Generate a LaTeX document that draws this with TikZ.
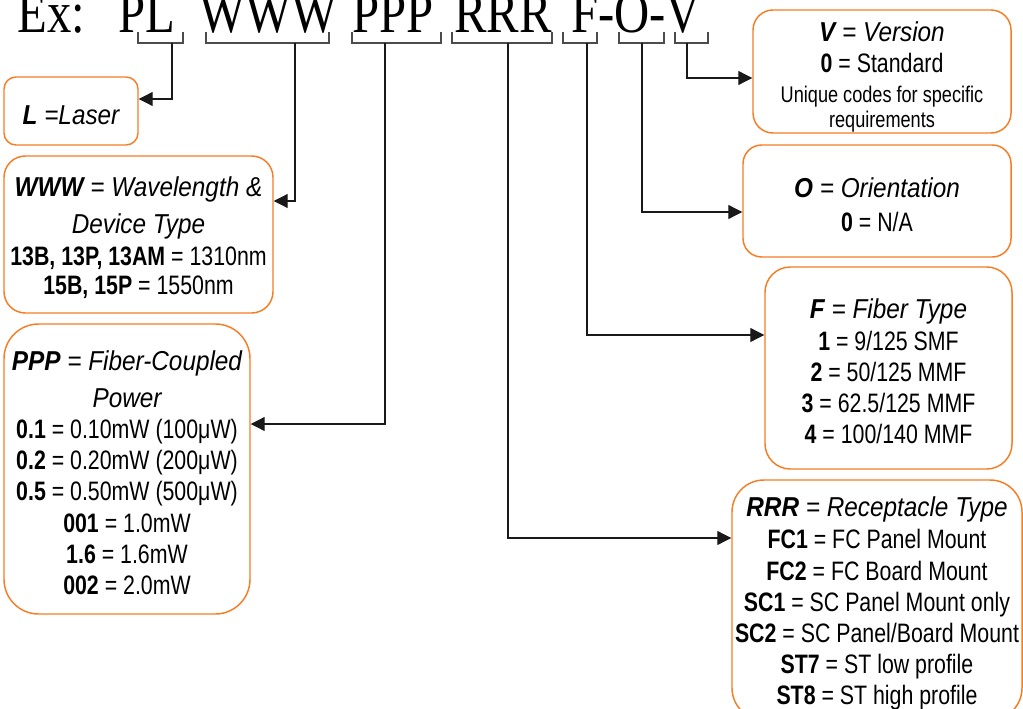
\documentclass[tikz,border=0pt]{standalone}
\usepackage{fontspec}
\usepackage{tikz}
\usetikzlibrary{arrows.meta}
\newfontfamily\headfont[FakeStretch=0.83]{Liberation Serif}
\newfontfamily\bodyfont[FakeStretch=0.8]{Liberation Sans}
\newfontfamily\titlefont[FakeStretch=0.89]{Liberation Sans}
\definecolor{boxorange}{RGB}{245,125,35}
\newcommand{\ttl}{\titlefont\fontsize{20.5pt}{24pt}\selectfont\itshape}
\newcommand{\sml}{\fontsize{17pt}{19pt}\selectfont}
\newcommand{\toppad}[1][20pt]{\rule{0pt}{#1}}
\tikzset{
	codebox/.style={draw=boxorange, line width=1.1pt, align=center, inner sep=0pt,
		font=\bodyfont\fontsize{20pt}{23.4pt}\selectfont},
	boxsize/.style 2 args={minimum width=#1*0.75pt, minimum height=#2*0.75pt},
	letters/.style={anchor=base west, inner sep=0pt, font=\headfont\fontsize{44pt}{50pt}\selectfont},
	bracket/.style={draw=black!70, line width=0.9pt},
	conn/.style={draw=black!90, line width=0.9pt, -{Triangle[length=10.5pt,width=10.5pt]}}
}

\begin{document}
\begin{tikzpicture}[x=0.75pt, y=-0.75pt]
	\useasboundingbox (0,0) rectangle (1023,709);
	% part number
	\node[letters] (ex) at (17,33) {Ex:};
	\node[letters] (pl) at (118,33) {PL};
	\node[letters] (www) at (199,33) {WWW};
	\node[letters] (ppp) at (352,33) {PPP};
	\node[letters] (rrr) at (454,33) {RRR};
	\node[letters] (fov) at (571,33) {F-O-V};
	% brackets under the letters
	\draw[bracket] (138,32) |- (183,43) -- (183,32);
	\draw[bracket] (206,32) |- (329,43) -- (329,32);
	\draw[bracket] (352,32) |- (441,43) -- (441,32);
	\draw[bracket] (452,32) |- (552,43) -- (552,32);
	\draw[bracket] (563,32) |- (597,43) -- (597,32);
	\draw[bracket] (619,32) |- (664,43) -- (664,32);
	\draw[bracket] (675,32) |- (708,43) -- (708,32);
	\coordinate (pl-s) at (172,43);   \coordinate (pl-t) at (172,99);
	\coordinate (www-s) at (295,43);  \coordinate (www-t) at (295,201);
	\coordinate (ppp-s) at (385,43);  \coordinate (ppp-t) at (385,424);
	\coordinate (rrr-s) at (508,43);  \coordinate (rrr-t) at (508,538);
	\coordinate (f-s) at (587,43);    \coordinate (f-t) at (587,335);
	\coordinate (o-s) at (642,43);    \coordinate (o-t) at (642,212);
	\coordinate (v-s) at (687,43);    \coordinate (v-t) at (687,78);
	% left boxes
	\node[codebox, boxsize={134}{68}, rounded corners=9pt] (lbox) at (71,111)
		{\toppad{\ttl\textbf{L} =Laser}};
	\node[codebox, boxsize={269}{157}, rounded corners=16pt] (wbox) at (138.5,234.5)
		{\toppad{\ttl\textbf{WWW} = Wavelength \&}\\[4pt]
		 {\ttl Device Type}\\[1pt]
		 \textbf{13B, 13P, 13AM} = 1310nm\\[-1.5pt]
		 \textbf{15B, 15P} = 1550nm};
	\node[codebox, boxsize={246}{290}, rounded corners=26pt] (pbox) at (127,469)
		{\toppad{\ttl\textbf{PPP} = Fiber-Coupled}\\[4.5pt]
		 {\ttl Power}\\
		 \textbf{0.1} = 0.10mW (100μW)\\
		 \textbf{0.2} = 0.20mW (200μW)\\
		 \textbf{0.5} = 0.50mW (500μW)\\
		 \textbf{001} = 1.0mW\\
		 \textbf{1.6} = 1.6mW\\
		 \textbf{002} = 2.0mW};
	% right boxes
	\node[codebox, boxsize={258}{123}, rounded corners=15pt] (vbox) at (882,71.5)
		{\toppad[23pt]{\ttl\textbf{V} = Version}\\
		 \textbf{0} = Standard\\[-1pt]
		 {\sml Unique codes for specific}\\[-4.5pt]
		 {\sml requirements}};
	\node[codebox, boxsize={268}{112}, rounded corners=14pt] (obox) at (877,201)
		{\toppad{\ttl\textbf{O} = Orientation}\\[2pt]
		 \textbf{0} = N/A};
	\node[codebox, boxsize={247}{202}, rounded corners=19pt] (fbox) at (888.5,368)
		{\toppad{\ttl\textbf{F} = Fiber Type}\\
		 \textbf{1} = 9/125 SMF\\
		 \textbf{2} = 50/125 MMF\\
		 \textbf{3} = 62.5/125 MMF\\
		 \textbf{4} = 100/140 MMF};
	\node[codebox, boxsize={290}{240}, rounded corners=24pt] (rbox) at (877,600)
		{\toppad{\ttl\textbf{RRR} = Receptacle Type}\\[1pt]
		 \textbf{FC1} = FC Panel Mount\\
		 \textbf{FC2} = FC Board Mount\\
		 \textbf{SC1} = SC Panel Mount only\\
		 \textbf{SC2} = SC Panel/Board Mount\\
		 \textbf{ST7} = ST low profile\\
		 \textbf{ST8} = ST high profile};
	% connectors
	\draw[conn] (pl-s) -- (pl-t) -- (lbox.east |- pl-t);
	\draw[conn] (www-s) -- (www-t) -- (wbox.east |- www-t);
	\draw[conn] (ppp-s) -- (ppp-t) -- (pbox.east |- ppp-t);
	\draw[conn] (rrr-s) -- (rrr-t) -- (rbox.west |- rrr-t);
	\draw[conn] (f-s) -- (f-t) -- (fbox.west |- f-t);
	\draw[conn] (o-s) -- (o-t) -- (obox.west |- o-t);
	\draw[conn] (v-s) -- (v-t) -- (vbox.west |- v-t);
\end{tikzpicture}
\end{document}
